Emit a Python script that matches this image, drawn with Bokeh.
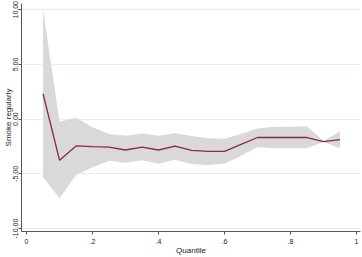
from bokeh.plotting import figure
from bokeh.models import Range1d, FixedTicker
from bokeh.embed import file_html
from bokeh.resources import INLINE

quantile = [0.05, 0.10, 0.15, 0.20, 0.25, 0.30, 0.35, 0.40, 0.45, 0.50,
            0.55, 0.60, 0.65, 0.70, 0.75, 0.80, 0.85, 0.90, 0.95]
coef = [2.32, -3.76, -2.45, -2.52, -2.56, -2.82, -2.56, -2.82, -2.47, -2.85,
        -2.95, -2.95, -2.30, -1.68, -1.68, -1.68, -1.68, -2.05, -1.87]
upper = [10.0, -0.24, 0.12, -0.75, -1.36, -1.52, -1.32, -1.52, -1.28, -1.55,
         -1.75, -1.80, -1.36, -0.86, -0.70, -0.70, -0.66, -2.00, -1.10]
lower = [-5.30, -7.23, -5.10, -4.40, -3.80, -3.98, -3.76, -4.08, -3.72, -4.10,
         -4.20, -4.07, -3.35, -2.55, -2.67, -2.67, -2.67, -2.10, -2.65]

x_ticks = [0, 0.2, 0.4, 0.6, 0.8, 1.0]
x_tick_labels = ["0", ".2", ".4", ".6", ".8", "1"]
y_ticks = [-10, -5, 0, 5, 10]
y_tick_labels = ["-10.00", "-5.00", "0.00", "5.00", "10.00"]

FONT = "Liberation Sans"

p = figure(width=362, height=257, output_backend="svg", toolbar_location=None,
           x_range=Range1d(-0.0153, 1.012), y_range=Range1d(-10.27, 10.57),
           min_border_left=0, min_border_right=2, min_border_top=3,
           min_border_bottom=0)
p.outline_line_color = None
p.background_fill_color = "white"
p.border_fill_color = "white"

p.varea(x=quantile, y1=lower, y2=upper, fill_color="#d9d9d9", fill_alpha=1.0)
p.line(x=quantile, y=coef, line_color="#8c2a3c", line_width=1.3)

p.xgrid.grid_line_color = None
p.ygrid.grid_line_color = "#e6eef0"
p.ygrid.grid_line_width = 1
p.ygrid.ticker = FixedTicker(ticks=y_ticks)

p.xaxis.ticker = FixedTicker(ticks=x_ticks)
p.xaxis.major_label_overrides = {t: l for t, l in zip(x_ticks, x_tick_labels)}
p.yaxis.ticker = FixedTicker(ticks=y_ticks)
p.yaxis.major_label_overrides = {t: l for t, l in zip(y_ticks, y_tick_labels)}
p.yaxis.major_label_orientation = "vertical"

p.xaxis.axis_label = "Quantile"
p.yaxis.axis_label = "Smoke regularly"

for ax in (p.xaxis[0], p.yaxis[0]):
    ax.axis_line_color = "#555555"
    ax.axis_line_width = 1
    ax.major_tick_line_color = "#555555"
    ax.major_tick_out = 3
    ax.major_tick_in = 0
    ax.minor_tick_line_color = None
    ax.major_label_text_font = FONT
    ax.major_label_text_font_size = "7px"
    ax.major_label_text_color = "#222222"
    ax.axis_label_text_font = FONT
    ax.axis_label_text_font_size = "8px"
    ax.axis_label_text_font_style = "normal"
    ax.axis_label_text_color = "#222222"

p.yaxis.major_label_standoff = 0
p.yaxis.axis_label_standoff = -2
p.xaxis.major_label_standoff = 4
p.xaxis.axis_label_standoff = -1

open("out.html", "w").write(file_html(p, INLINE))
